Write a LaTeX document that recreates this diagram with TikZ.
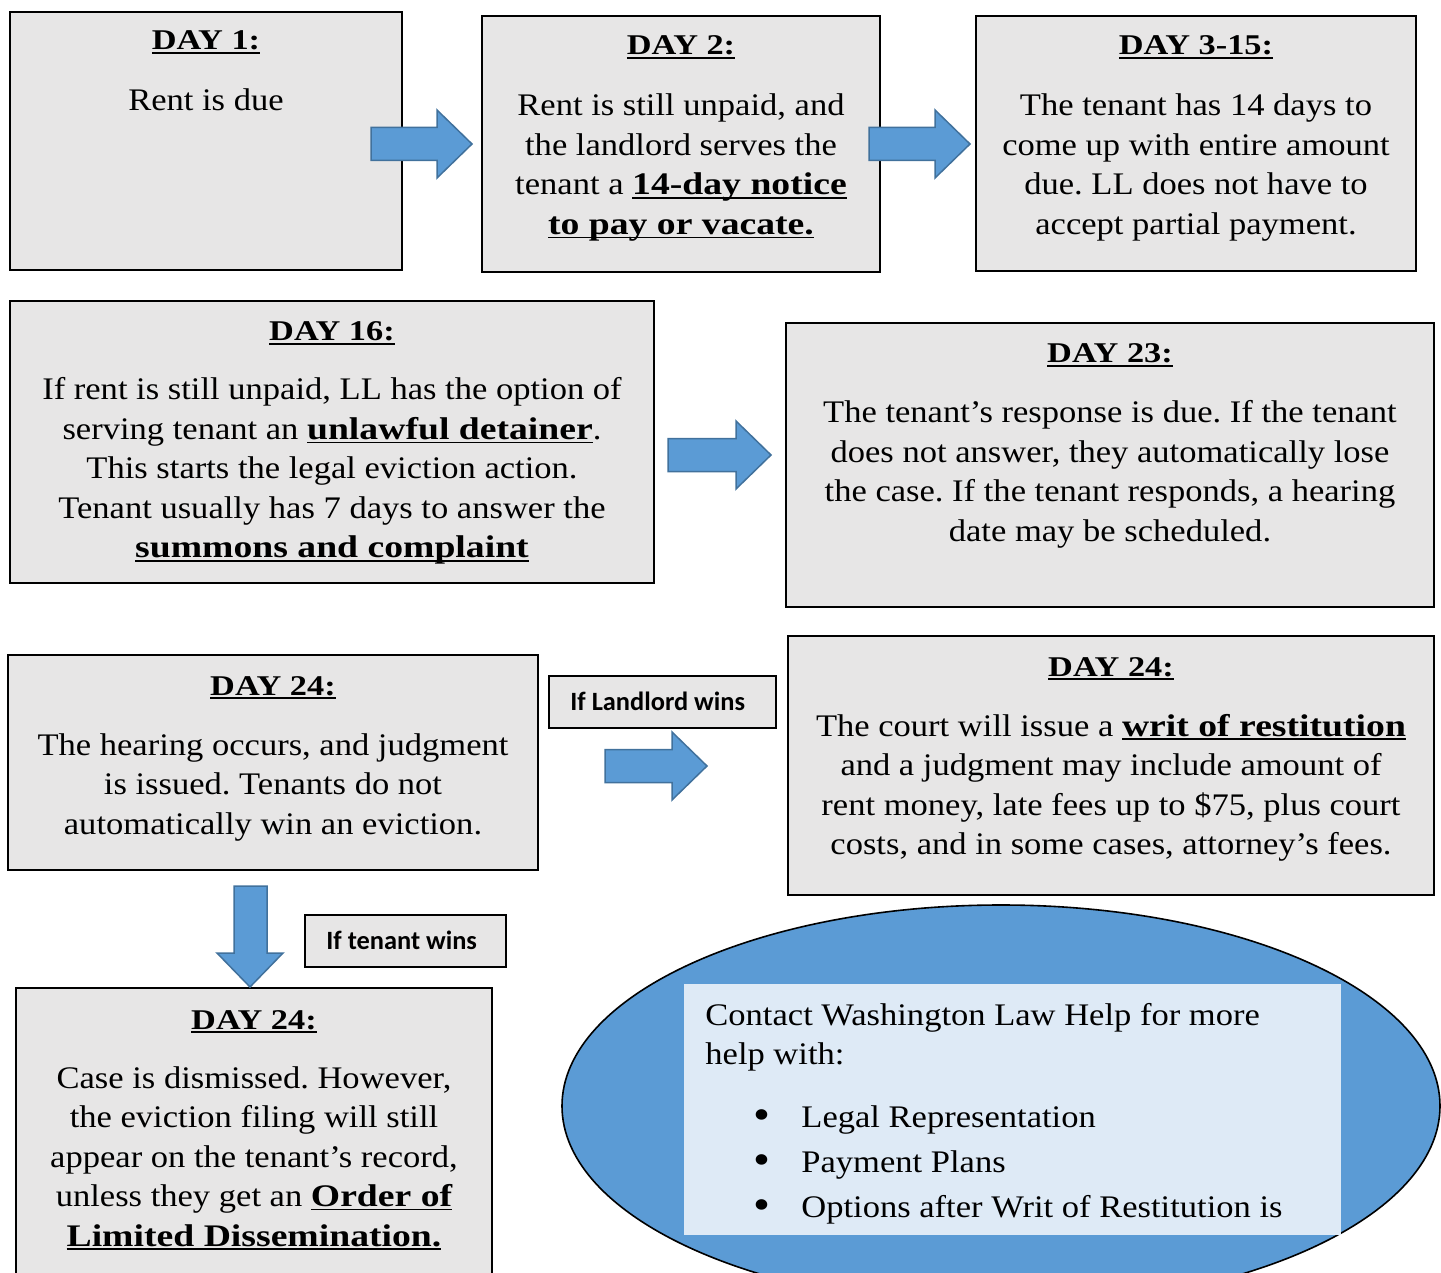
\documentclass[tikz,border=0pt]{standalone}
\usepackage{fontspec}
\setmainfont{Liberation Serif}[FakeStretch=1.1]
\newfontfamily\boldserif{Liberation Serif}[FakeStretch=1.2]
\newfontfamily\labelfont{Carlito}
\usetikzlibrary{fit,shapes.geometric}
\definecolor{boxgray}{HTML}{E7E6E6}
\definecolor{arrowblue}{HTML}{5B9BD5}
\definecolor{arrowedge}{HTML}{41719C}
\definecolor{paleblue}{HTML}{DEEAF6}
\frenchspacing
\newcommand\myul[1]{\setbox0\hbox{#1}\rlap{\rule[-1.9pt]{\wd0}{0.85pt}}\box0}
\newcommand\bul[1]{\myul{\boldserif\bfseries #1}}
\newcommand\daytitle[1]{{\fontsize{14.3}{19.75}\selectfont\bul{#1}}}
\newcommand\bodysize{\fontsize{15.7}{19.75}\selectfont}
\newcommand\bigdot{\raisebox{-1.2pt}{\fontsize{22}{22}\selectfont\textbullet}}
\newcommand\hblock[3]{% x0, x1, yc
  \draw[blockarrow] ({#1},{#3-16.5}) -- ({#2-35},{#3-16.5}) -- ({#2-35},{#3-34}) -- ({#2},{#3})
    -- ({#2-35},{#3+34}) -- ({#2-35},{#3+16.5}) -- ({#1},{#3+16.5}) -- cycle;}
\tikzset{
  daybox/.style={draw=black, line width=1pt, fill=boxgray, inner sep=0pt},
  labelbox/.style={draw=black, line width=0.8pt, fill=boxgray, inner sep=0pt},
  txt/.style={inner sep=0pt, anchor=base, font=\bodysize},
  labeltxt/.style={inner sep=0pt, anchor=base west, font=\labelfont\bfseries\fontsize{13.2}{15}\selectfont},
  blockarrow/.style={fill=arrowblue, draw=arrowedge, line width=0.75pt, line join=miter},
}
\begin{document}
\begin{tikzpicture}[x=0.5pt, y=-0.5pt]
\useasboundingbox (0,0) rectangle (1441,1273);

% boxes
\node[daybox, fit={(10,12) (402,270)}] (b1) {};
\node[daybox, fit={(482,16) (880,272)}] (b2) {};
\node[daybox, fit={(976,16) (1416,271)}] (b3) {};
\node[daybox, fit={(10,301) (654,583)}] (b4) {};
\node[daybox, fit={(786,323) (1434,607)}] (b5) {};
\node[daybox, fit={(8,655) (538,870)}] (b6) {};
\node[daybox, fit={(788,636) (1434,895)}] (b7) {};
\node[daybox, fit={(16,988) (492,1300)}] (b8) {};

% arrows
\hblock{371}{472}{144}
\hblock{869}{970}{144}
\hblock{668}{771}{455}
\hblock{605}{707}{766}
\draw[blockarrow] (234,886) -- (267,886) -- (267,953) -- (283,953) -- (250,987) -- (217,953) -- (234,953) -- cycle;

% labels
\node[labelbox, fit={(549,676) (776,728)}] (lw) {};
\node[labeltxt] (lwt) at (570,710) {If Landlord wins};
\node[labelbox, fit={(305,915) (506,967)}] (tw) {};
\node[labeltxt] (twt) at (326,949) {If tenant wins};

% texts
\node[txt] (t1) at (206,50) {\begin{tabular}[t]{@{}c@{}}\daytitle{DAY 1:}\\[10.75pt]
Rent is due\end{tabular}};

\node[txt] (t2) at (681,55) {\begin{tabular}[t]{@{}c@{}}\daytitle{DAY 2:}\\[10.75pt]
Rent is still unpaid, and\\
the landlord serves the\\
tenant a \bul{14-day notice}\\
\bul{to pay or vacate.}\end{tabular}};

\node[txt] (t3) at (1196,55) {\begin{tabular}[t]{@{}c@{}}\daytitle{DAY 3-15:}\\[10.75pt]
The tenant has 14 days to\\
come up with entire amount\\
due. LL does not have to\\
accept partial payment.\end{tabular}};

\node[txt] (t4) at (332,341) {\begin{tabular}[t]{@{}c@{}}\daytitle{DAY 16:}\\[9.75pt]
If rent is still unpaid, LL has the option of\\
serving tenant an \bul{unlawful detainer}.\\
This starts the legal eviction action.\\
Tenant usually has 7 days to answer the\\
\bul{summons and complaint}\end{tabular}};

\node[txt] (t5) at (1110,363) {\begin{tabular}[t]{@{}c@{}}\daytitle{DAY 23:}\\[10.25pt]
The tenant’s response is due. If the tenant\\
does not answer, they automatically lose\\
the case. If the tenant responds, a hearing\\
date may be scheduled.\end{tabular}};

\node[txt] (t6) at (273,695) {\begin{tabular}[t]{@{}c@{}}\daytitle{DAY 24:}\\[10.25pt]
The hearing occurs, and judgment\\
is issued. Tenants do not\\
automatically win an eviction.\end{tabular}};

\node[txt] (t7) at (1111,676) {\begin{tabular}[t]{@{}c@{}}\daytitle{DAY 24:}\\[10.25pt]
The court will issue a \bul{writ of restitution}\\
and a judgment may include amount of\\
rent money, late fees up to \$75, plus court\\
costs, and in some cases, attorney’s fees.\end{tabular}};

\node[txt] (t8) at (254,1029) {\begin{tabular}[t]{@{}c@{}}\daytitle{DAY 24:}\\[9.75pt]
Case is dismissed. However,\\
the eviction filing will still\\
appear on the tenant’s record,\\
unless they get an \bul{Order of}\\
\bul{Limited Dissemination.}\end{tabular}};

% contact ellipse
\node[draw=black, line width=0.8pt, fill=arrowblue, ellipse, minimum width=439pt, minimum height=201pt, inner sep=0pt] (ell) at (1001,1106) {};
\node[fill=paleblue, inner sep=0pt, fit={(684,984) (1341,1235)}] (inner) {};
\node[txt, anchor=base west] (ct) at (705,1025) {\begin{tabular}[t]{@{}l@{}}
Contact Washington Law Help for more\\
help with:\\[11.75pt]
\hspace{24pt}\makebox[24pt][l]{\bigdot}Legal Representation\\[2.75pt]
\hspace{24pt}\makebox[24pt][l]{\bigdot}Payment Plans\\[2.75pt]
\hspace{24pt}\makebox[24pt][l]{\bigdot}Options after Writ of Restitution is
\end{tabular}};
\end{tikzpicture}
\end{document}
